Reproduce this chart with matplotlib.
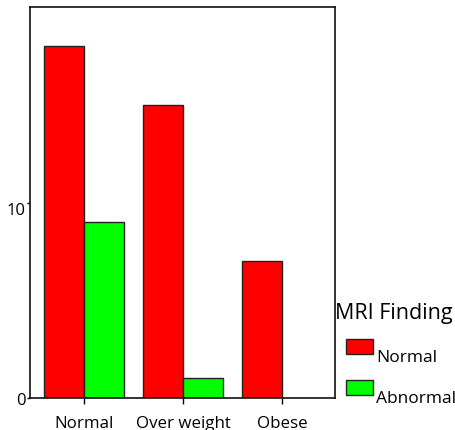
import matplotlib
matplotlib.use("Agg")
import matplotlib.pyplot as plt
from matplotlib.patches import Rectangle
import matplotlib.transforms as mtransforms
import numpy as np

categories = ["Normal", "Over weight", "Obese"]
series_names = ["Normal", "Abnormal"]
normal_counts = [18, 15, 7]
abnormal_counts = [9, 1, 0]
colors = ["#ff0000", "#00ff00"]
legend_title = "MRI Finding"

plt.rcParams['font.family'] = ['Open Sans', 'DejaVu Sans']

W, H = 456, 431
fig = plt.figure(figsize=(W/100, H/100), dpi=100)
ax = fig.add_axes([30/W, 1-399/H, 305/W, 391/H])

x = np.arange(len(categories))
bw = 0.4
for vals, off, c in [(normal_counts, -bw/2, colors[0]), (abnormal_counts, bw/2, colors[1])]:
    bars = ax.bar(x + off, vals, width=bw, color=c, edgecolor="#222222", linewidth=1.0)
    for b, v in zip(bars, vals):
        if v == 0:
            b.set_visible(False)

ax.set_xlim(-0.545, 2.535)
ax.set_ylim(0, 20)
ax.set_yticks([0, 10])
ax.set_yticklabels(["0", "10"], fontsize=12)
ax.set_xticks(x)
ax.set_xticklabels(categories, fontsize=12.2)
ax.tick_params(axis='y', length=2, pad=1, width=1)
ax.tick_params(axis='x', length=4, pad=8, width=1)
for s in ax.spines.values():
    s.set_color("#111111")
    s.set_linewidth(1.2)

# shift the "10" label slightly down as in reference
offset = mtransforms.ScaledTranslation(0, -6/100, fig.dpi_scale_trans)
lbl10 = ax.get_yticklabels()[1]
lbl10.set_transform(lbl10.get_transform() + offset)

# legend drawn at figure level
fig.text(335/W, 1-313/H, legend_title, fontsize=15.5, ha="left", va="center")
ypos = [340, 381]
for name, c, yp in zip(series_names, colors, ypos):
    fig.patches.append(Rectangle((346/W, 1-(yp+15)/H), 27/W, 15/H, transform=fig.transFigure,
                                 facecolor=c, edgecolor="#222222", linewidth=1.0))
    fig.text(376/W, 1-(yp+18)/H, name, fontsize=12.5, ha="left", va="center")

fig.savefig("out.png", dpi=100)
